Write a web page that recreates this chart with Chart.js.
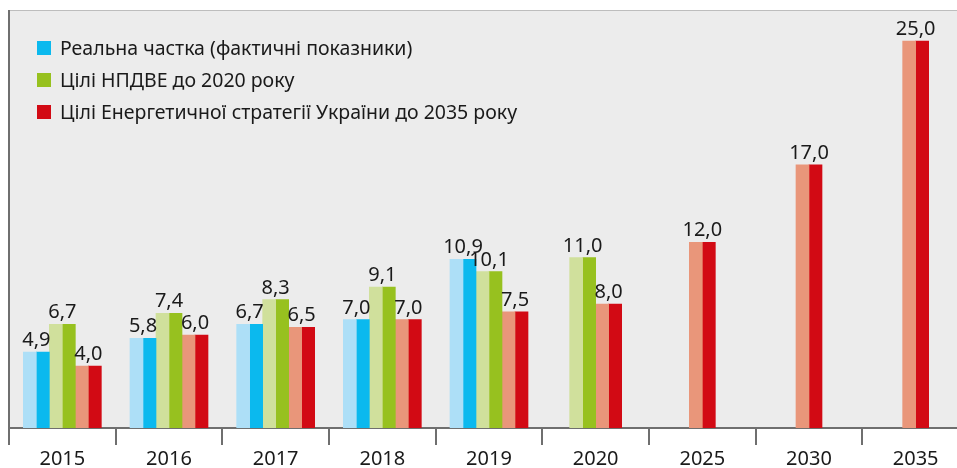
<!DOCTYPE html>
<html>
<head>
<meta charset="utf-8">
<script src="https://cdn.jsdelivr.net/npm/chart.js@4"></script>
<style>
	html, body { margin: 0; padding: 0; background: #fff; overflow: hidden; }
	#wrap { width: 975px; height: 468px; position: relative; }
</style>
</head>
<body>
<div id="wrap"><canvas id="chartjs-canvas"></canvas></div>
<script>
const categories = ['2015', '2016', '2017', '2018', '2019', '2020', '2025', '2030', '2035'];
const realShare = [4.9, 5.8, 6.7, 7.0, 10.9, null, null, null, null];
const npdveTargets = [6.7, 7.4, 8.3, 9.1, 10.1, 11.0, null, null, null];
const strategyTargets = [4.0, 6.0, 6.5, 7.0, 7.5, 8.0, 12.0, 17.0, 25.0];
const legendLabels = [
	'Реальна частка (фактичні показники)',
	'Цілі НПДВЕ до 2020 року',
	'Цілі Енергетичної стратегії України до 2035 року'
];

const FONT = '"Noto Sans", sans-serif';
const series = [
	{ data: realShare, light: '#addff7', dark: '#0bb9ee' },
	{ data: npdveTargets, light: '#d0e09c', dark: '#97c11f' },
	{ data: strategyTargets, light: '#e9967a', dark: '#d20a14' }
];

// each series = light half + dark half
const datasets = [];
series.forEach(s => {
	datasets.push({ data: s.data, backgroundColor: s.light });
	datasets.push({ data: s.data, backgroundColor: s.dark });
});

const backdrop = {
	id: 'backdrop',
	beforeDraw: chart => {
		const { ctx, chartArea: a } = chart;
		ctx.save();
		ctx.fillStyle = '#ececec';
		ctx.fillRect(a.left, a.top, a.right - a.left, a.bottom - a.top);
		ctx.strokeStyle = '#bdbdbd';
		ctx.lineWidth = 1;
		ctx.beginPath();
		ctx.moveTo(a.left, a.top + 0.5);
		ctx.lineTo(a.right, a.top + 0.5);
		ctx.stroke();
		ctx.strokeStyle = '#6f6f6f';
		ctx.lineWidth = 2;
		ctx.beginPath();
		ctx.moveTo(a.left, a.top);
		ctx.lineTo(a.left, a.bottom + 17);
		ctx.stroke();
		ctx.restore();
	}
};

const valueLabels = {
	id: 'valueLabels',
	afterDatasetsDraw: chart => {
		const { ctx } = chart;
		ctx.save();
		ctx.font = `20px ${FONT}`;
		ctx.fillStyle = '#1a1a1a';
		ctx.textAlign = 'center';
		ctx.textBaseline = 'alphabetic';
		series.forEach((s, k) => {
			const m0 = chart.getDatasetMeta(k * 2);
			const m1 = chart.getDatasetMeta(k * 2 + 1);
			s.data.forEach((v, i) => {
				if (v === null) return;
				const e0 = m0.data[i], e1 = m1.data[i];
				const x = (e0.x + e1.x) / 2;
				ctx.fillText(v.toFixed(1).replace('.', ','), x, Math.min(e0.y, e1.y) - 6);
			});
		});
		ctx.restore();
	}
};

const customLegend = {
	id: 'customLegend',
	afterDraw: chart => {
		const { ctx } = chart;
		ctx.save();
		ctx.font = `19.5px ${FONT}`;
		ctx.textBaseline = 'middle';
		legendLabels.forEach((label, i) => {
			const y = 48 + i * 32;
			ctx.fillStyle = series[i].dark;
			ctx.fillRect(37, y - 7, 14, 14);
			ctx.fillStyle = '#1a1a1a';
			ctx.fillText(label, 60, y + 1);
		});
		ctx.restore();
	}
};

new Chart(document.getElementById('chartjs-canvas'), {
	type: 'bar',
	data: { labels: categories, datasets },
	options: {
		responsive: true,
		maintainAspectRatio: false,
		animation: false,
		skipNull: true,
		barThickness: 13,
		layout: { padding: { left: 9, right: 6, top: 10, bottom: 0 } },
		plugins: {
			legend: { display: false },
			tooltip: { enabled: false }
		},
		scales: {
			x: {
				offset: true,
				border: { display: true, color: '#6f6f6f', width: 2 },
				grid: {
					offset: true,
					drawOnChartArea: false,
					drawTicks: true,
					tickLength: 17,
					color: '#6f6f6f',
					lineWidth: 2
				},
				ticks: {
					color: '#1a1a1a',
					padding: 2,
					font: { family: FONT, size: 20 }
				},
				afterFit: scale => { scale.height = 40; }
			},
			y: {
				display: false,
				min: 0,
				max: 27
			}
		}
	},
	plugins: [backdrop, valueLabels, customLegend]
});
</script>
</body>
</html>
